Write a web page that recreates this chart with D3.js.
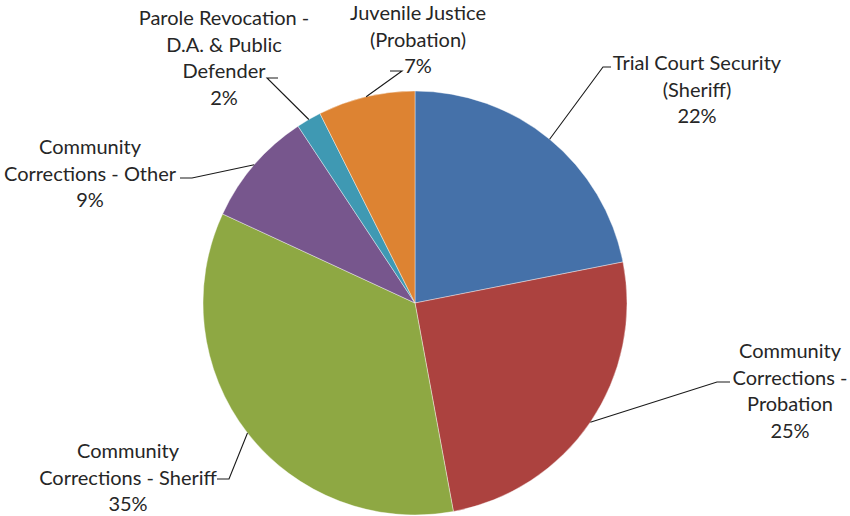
<!DOCTYPE html>
<html>
<head>
<meta charset="utf-8">
<script src="https://cdn.jsdelivr.net/npm/d3@7"></script>
<style>
  body { margin: 0; background: #fff; }
  svg text { font-family: Lato, "Open Sans", sans-serif; font-size: 20px; fill: #262626; }
</style>
</head>
<body>
<div id="chart"></div>
<script>
// Datos (orden horario desde las 12)
const categories = [
  ['Trial Court Security', '(Sheriff)'],
  ['Community', 'Corrections -', 'Probation'],
  ['Community', 'Corrections - Sheriff'],
  ['Community', 'Corrections - Other'],
  ['Parole Revocation -', 'D.A. & Public', 'Defender'],
  ['Juvenile Justice', '(Probation)']
];
const values = [21.9, 25.2, 34.8, 8.8, 1.9, 7.4];
const pctLabels = ['22%', '25%', '35%', '9%', '2%', '7%'];

// Colores
const COLORS = ['#4571A9', '#AC423F', '#8EA843', '#77568D', '#3F99B3', '#DD8332'];

// Posición de etiquetas (centro x, centro de la primera línea y, codo de la guía, extremo horizontal)
const labelLayout = [
  {x: 697, y: 63, elbow: [603, 67], end: 611},
  {x: 790, y: 351, elbow: [717, 382], end: 730},
  {x: 128, y: 451, elbow: [229, 479], end: 217},
  {x: 90, y: 147, elbow: [192, 178], end: 180},
  {x: 224, y: 18, elbow: [267, 78], end: 278},
  {x: 418, y: 13, elbow: [402, 71], end: 390}
];

let width = 850, height = 516;
let cx = 415, cy = 303, radius = 212;
let lineH = 26.5;

let svg = d3.select('#chart')
  .append('svg')
    .attr('width', width)
    .attr('height', height);

let g = svg.append('g')
  .attr('transform', 'translate(' + cx + ',' + cy + ')');

let pie = d3.pie().sort(null).value(function(d) { return d; });
let arcs = pie(values);

let arc = d3.arc().innerRadius(0).outerRadius(radius);
let edgeArc = d3.arc().innerRadius(radius).outerRadius(radius);

g.selectAll('path.slice')
  .data(arcs)
  .enter()
  .append('path')
    .attr('class', 'slice')
    .attr('d', arc)
    .attr('fill', function(d, i) { return COLORS[i]; })
    .attr('stroke', '#ffffff')
    .attr('stroke-width', 0.4);

// Guías
svg.selectAll('path.leader')
  .data(arcs)
  .enter()
  .append('path')
    .attr('class', 'leader')
    .attr('fill', 'none')
    .attr('stroke', '#1a1a1a')
    .attr('stroke-width', 1.1)
    .attr('d', function(d, i) {
      let p = edgeArc.centroid(d);
      let L = labelLayout[i];
      return 'M' + (p[0] + cx) + ',' + (p[1] + cy) + 'L' + L.elbow[0] + ',' + L.elbow[1] + 'L' + L.end + ',' + L.elbow[1];
    });

// Etiquetas
let labels = svg.selectAll('text.label')
  .data(categories)
  .enter()
  .append('text')
    .attr('class', 'label')
    .attr('text-anchor', 'middle');

labels.each(function(lines, i) {
  let t = d3.select(this);
  let L = labelLayout[i];
  lines.concat([pctLabels[i]]).forEach(function(s, j) {
    t.append('tspan')
      .attr('x', L.x)
      .attr('y', L.y + j * lineH)
      .attr('dy', '0.35em')
      .text(s);
  });
});
</script>
</body>
</html>
